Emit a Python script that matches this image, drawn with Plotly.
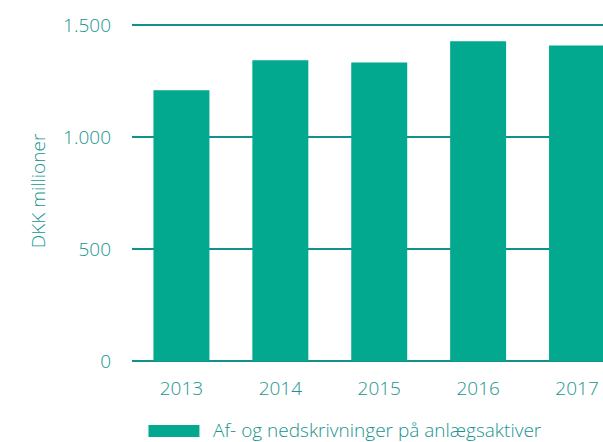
import plotly.graph_objects as go

# Data
years = ["2013", "2014", "2015", "2016", "2017"]
values = [1210, 1344, 1335, 1429, 1411]
series_name = "Af- og nedskrivninger på anlægsaktiver"
y_title = "DKK millioner"
y_ticks = [0, 500, 1000, 1500]

BAR = "#02a98f"
GRID = "#13908b"
TEXT = "#18958f"
FONT = "Open Sans"

W, H = 603, 442
ML, MR, MT, MB = 131.5, 0, 20.5, 81
plot_w = W - ML - MR
plot_h = H - MT - MB

fig = go.Figure(
    go.Bar(
        x=years,
        y=values,
        marker=dict(color=BAR, line=dict(width=0)),
        width=0.566,
        showlegend=False,
        name=series_name,
    )
)


def px_to_paper_x(px):
    return (px - ML) / plot_w


def px_to_paper_y(py):
    return (H - MB - py) / plot_h


# Legend drawn as a wide swatch plus a text label
fig.add_shape(
    type="rect", xref="paper", yref="paper",
    x0=px_to_paper_x(148), x1=px_to_paper_x(199),
    y0=px_to_paper_y(437), y1=px_to_paper_y(425),
    fillcolor=BAR, line=dict(width=0),
)
fig.add_annotation(
    xref="paper", yref="paper",
    x=px_to_paper_x(211), y=px_to_paper_y(430),
    xanchor="left", yanchor="middle",
    text=series_name, showarrow=False,
    font=dict(family=FONT, size=19, color=TEXT, weight=300),
)

tick_font = dict(family=FONT, size=19, color=TEXT, weight=300)

fig.update_layout(
    width=W, height=H,
    margin=dict(l=ML, r=MR, t=MT, b=MB, pad=0),
    paper_bgcolor="white", plot_bgcolor="white",
    separators=",.",
    font=dict(family=FONT, size=18, color=TEXT, weight=300),
    bargap=0.434,
)
fig.update_xaxes(
    type="category",
    range=[-0.5, -0.5 + plot_w / 99.0],
    showgrid=False, showline=False, ticks="",
    ticklabelstandoff=14,
    tickfont=tick_font,
    automargin=False,
)
fig.update_yaxes(
    range=[0, 1520],
    tickvals=y_ticks,
    tickformat=",d",
    showgrid=True, gridcolor=GRID, gridwidth=2,
    zeroline=True, zerolinecolor=GRID, zerolinewidth=2,
    showline=False, ticks="",
    ticklabelstandoff=20,
    tickfont=tick_font,
    title=dict(text=y_title, font=dict(family=FONT, size=19, color=TEXT, weight=300), standoff=12),
    automargin=False,
)

fig.write_html("out.html")
